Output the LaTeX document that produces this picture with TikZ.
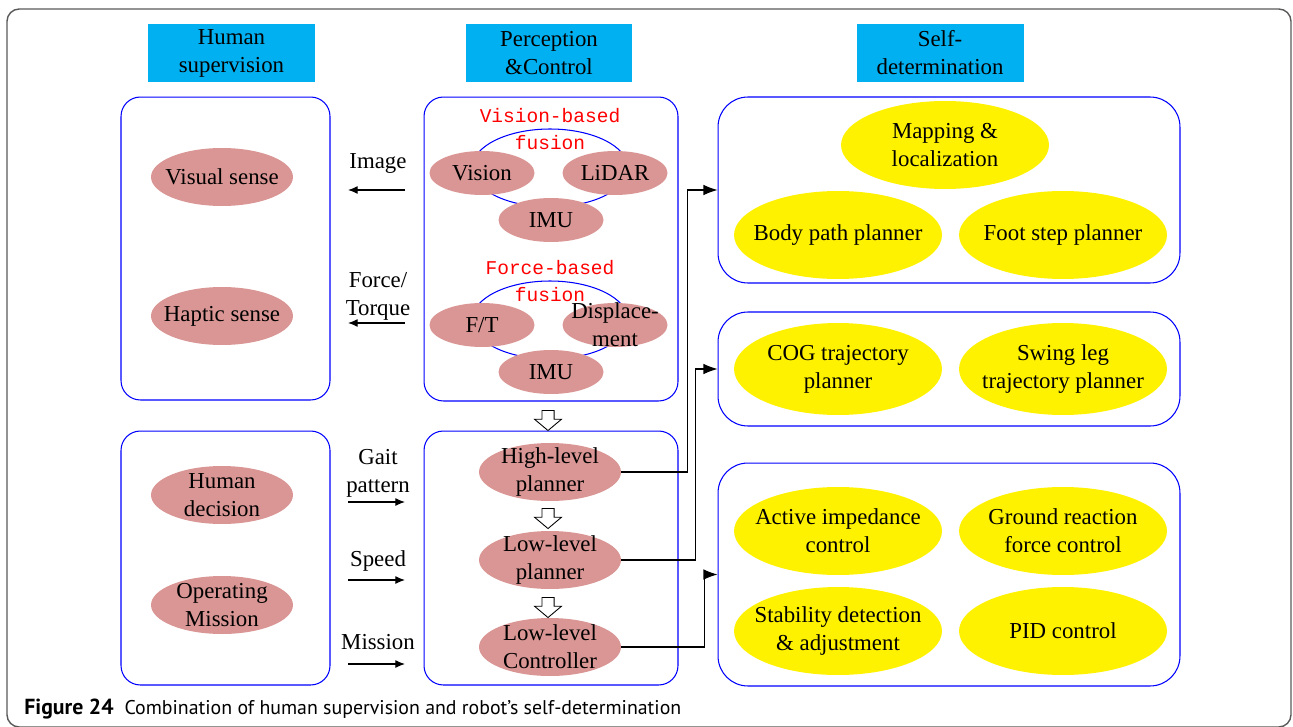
\documentclass[tikz,border=0pt]{standalone}
\usepackage{fontspec}
\setmainfont{Liberation Serif}
\newfontfamily\monofont{Liberation Mono}
\newfontfamily\capfont{PT Sans}
\usepackage{tikz}
\usetikzlibrary{arrows,shapes}
\usetikzlibrary{arrows.meta}
\definecolor{headcyan}{HTML}{00B0F0}
\definecolor{rosepink}{HTML}{D99694}
\definecolor{boxblue}{HTML}{0000FF}
\definecolor{framegray}{HTML}{595959}

\begin{document}
\begin{tikzpicture}[
    x=0.02cm, y=-0.02cm,
    font=\fontsize{13}{15.9}\selectfont,
    head_box/.style={rectangle, fill=headcyan, align=center, minimum width=3.34cm, minimum height=1.16cm, inner sep=0pt},
    group_box/.style={rectangle, draw=boxblue, line width=0.6pt, rounded corners=11pt},
    self_box/.style={group_box, rounded corners=17pt, minimum width=9.24cm},
    human_node/.style={ellipse, fill=rosepink, align=center, inner xsep=-10pt, inner ysep=-8pt, minimum width=2.84cm, minimum height=1.16cm},
    sensor_node/.style={human_node, minimum width=2.10cm, minimum height=0.88cm},
    self_node/.style={ellipse, fill=yellow, align=center, inner xsep=-10pt, inner ysep=-8pt, minimum width=4.16cm, minimum height=1.76cm},
    ring_node/.style={ellipse, draw=boxblue, line width=0.6pt, minimum width=3.12cm, minimum height=1.56cm},
    fusion_text/.style={text=red, align=center, font=\monofont\fontsize{11.1}{15.9}\selectfont},
    label_text/.style={align=center},
    info_arrow/.style={-{Latex[length=5.5pt,width=4.5pt]}, line width=0.6pt},
    link_arrow/.style={-{Latex[length=8pt,width=6pt]}, line width=0.6pt},
    hollow_arrow/.style={single arrow, draw, fill=white, line width=0.5pt, shape border rotate=270, minimum height=0.4cm, inner sep=3.2pt, single arrow head extend=4.2pt, single arrow tip angle=100}
]
\useasboundingbox (0,0) rectangle (1293,726);

% Frame
\draw[framegray, line width=0.8pt, rounded corners=7pt] (7,9) rectangle (1291,727);

% Column headers
\node[head_box] (h_human) at (231.5,53) {Human\\supervision};
\node[head_box] (h_percep) at (549,53) {Perception\\\&Control};
\node[head_box] (h_self) at (940,53) {Self-\\determination};

% Group boxes
\node[group_box, minimum width=4.18cm, minimum height=6.06cm] (sense_box) at (225.5,248.5) {};
\node[group_box, minimum width=4.18cm, minimum height=5.08cm] (decide_box) at (225.5,558) {};
\node[group_box, minimum width=5.08cm, minimum height=6.08cm] (fusion_box) at (551,249) {};
\node[group_box, minimum width=5.08cm, minimum height=5.08cm] (plan_box) at (551,558) {};
\node[self_box, minimum height=3.72cm] (map_box) at (949,190) {};
\node[self_box, minimum height=2.28cm] (traj_box) at (949,369) {};
\node[self_box, minimum height=4.46cm] (ctrl_box) at (949,574.5) {};

% Human supervision
\node[human_node] (visual) at (222,177) {Visual sense};
\node[human_node] (haptic) at (222,316) {Haptic sense};
\node[human_node] (decision) at (222,495) {Human\\decision};
\node[human_node] (operating) at (222,605) {Operating\\Mission};

% Sensor fusion
\node[ring_node] (ring_vis) at (550,168) {};
\node[ring_node] (ring_force) at (550,320) {};
\node[fusion_text] (vis_fusion) at (550,129) {Vision-based\\fusion};
\node[fusion_text] (force_fusion) at (550,281) {Force-based\\fusion};
\node[sensor_node] (vision) at (482,173) {Vision};
\node[sensor_node] (lidar) at (615,173) {LiDAR};
\node[sensor_node] (imu_a) at (551,220) {IMU};
\node[sensor_node] (ft) at (482,325) {F/T};
\node[sensor_node, inner ysep=-12pt] (disp) at (615,325) {Displace-\\ment};
\node[sensor_node] (imu_b) at (551,372) {IMU};

% Planners
\node[human_node] (hlp) at (550,472) {High-level\\planner};
\node[human_node] (llp) at (550,560) {Low-level\\planner};
\node[human_node] (llc) at (550,647) {Low-level\\Controller};
\node[hollow_arrow] (down_a) at (548,418) {};
\node[hollow_arrow] (down_b) at (548,516) {};
\node[hollow_arrow] (down_c) at (548,605) {};

% Self-determination
\node[self_node] (mapping) at (945,145) {Mapping \&\\localization};
\node[self_node] (body) at (838,235) {Body path planner};
\node[self_node] (foot) at (1063,235) {Foot step planner};
\node[self_node, minimum height=1.84cm] (cog) at (838,369) {COG trajectory\\planner};
\node[self_node, minimum height=1.84cm] (swing) at (1063,369) {Swing leg\\trajectory planner};
\node[self_node] (active) at (838,531) {Active impedance\\control};
\node[self_node] (ground) at (1063,531) {Ground reaction\\force control};
\node[self_node] (stab) at (838,631) {Stability detection\\\& adjustment};
\node[self_node] (pid) at (1063,631) {PID control};

% Exchanged information
\node[label_text] (img) at (378,163) {Image};
\node[label_text] (torque) at (378,296) {Force/\\Torque};
\node[label_text] (gait) at (378,473) {Gait\\pattern};
\node[label_text] (speed) at (378,561) {Speed};
\node[label_text] (mission) at (378,642) {Mission};
\coordinate (img_from) at (405,190);
\coordinate (img_to) at (348,190);
\coordinate (torque_from) at (405,323);
\coordinate (torque_to) at (348,323);
\coordinate (gait_from) at (348,502);
\coordinate (gait_to) at (405,502);
\coordinate (speed_from) at (348,580);
\coordinate (speed_to) at (405,580);
\coordinate (mission_from) at (348,664);
\coordinate (mission_to) at (405,664);
\draw[info_arrow] (img_from) -- (img_to);
\draw[info_arrow] (torque_from) -- (torque_to);
\draw[info_arrow] (gait_from) -- (gait_to);
\draw[info_arrow] (speed_from) -- (speed_to);
\draw[info_arrow] (mission_from) -- (mission_to);

% Links to self-determination
\draw[link_arrow] (hlp.east) -- ++(66,0) |- (map_box.west);
\draw[link_arrow] (llp.east) -- ++(74,0) |- (traj_box.west);
\draw[link_arrow] (llc.east) -- ++(83,0) |- (ctrl_box.west);

% Caption
\node[anchor=base west, inner sep=0pt, font=\capfont\fontsize{11.3}{13}\selectfont] (caption) at (24,714) {{\fontsize{12.4}{13}\selectfont\bfseries Figure 24}\hspace{0.55em}Combination of human supervision and robot’s self-determination};

\end{tikzpicture}
\end{document}
